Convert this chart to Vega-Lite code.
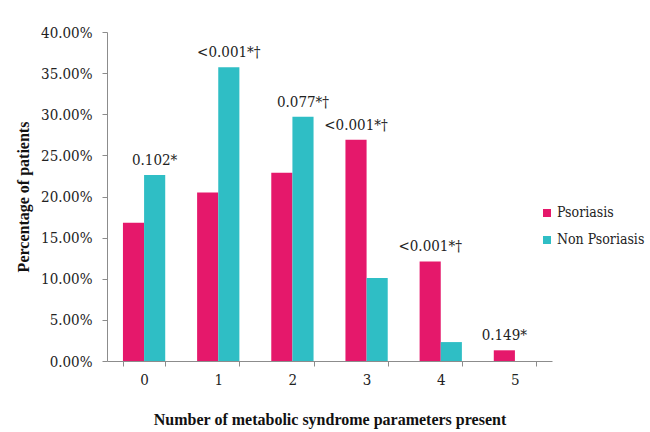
{
  "$schema": "https://vega.github.io/schema/vega-lite/v6.json",
  "autosize": {"type": "none"},
  "width": 445,
  "height": 329,
  "padding": {"left": 107, "top": 32, "right": 98, "bottom": 71},
  "background": "white",
  "config": {
    "view": {"stroke": null},
    "font": "DejaVu Serif Condensed, DejaVu Serif, serif",
    "axis": {"labelFont": "DejaVu Serif Condensed, DejaVu Serif, serif", "titleFont": "Liberation Serif, serif", "labelColor": "#222", "titleColor": "#111", "domainColor": "#8c8c8c", "tickColor": "#8c8c8c", "grid": false},
    "legend": {"labelFont": "DejaVu Serif Condensed, DejaVu Serif, serif", "labelColor": "#222"}
  },
  "data": {
    "values": [
      {"n": "0", "group": "Psoriasis", "pct": 0.168, "label": null},
      {"n": "0", "group": "Non Psoriasis", "pct": 0.226, "label": "0.102*"},
      {"n": "1", "group": "Psoriasis", "pct": 0.205, "label": null},
      {"n": "1", "group": "Non Psoriasis", "pct": 0.357, "label": "<0.001*†"},
      {"n": "2", "group": "Psoriasis", "pct": 0.229, "label": null},
      {"n": "2", "group": "Non Psoriasis", "pct": 0.297, "label": "0.077*†"},
      {"n": "3", "group": "Psoriasis", "pct": 0.269, "label": "<0.001*†"},
      {"n": "3", "group": "Non Psoriasis", "pct": 0.101, "label": null},
      {"n": "4", "group": "Psoriasis", "pct": 0.121, "label": "<0.001*†"},
      {"n": "4", "group": "Non Psoriasis", "pct": 0.023, "label": null},
      {"n": "5", "group": "Psoriasis", "pct": 0.013, "label": "0.149*"},
      {"n": "5", "group": "Non Psoriasis", "pct": 0.0, "label": null}
    ]
  },
  "encoding": {
    "x": {
      "field": "n", "type": "nominal",
      "scale": {"paddingInner": 0.43, "paddingOuter": 0.215},
      "axis": {"title": "Number of metabolic syndrome parameters present", "labelAngle": 0, "tickBand": "extent", "labelFontSize": 15, "labelPadding": 6, "tickSize": 5, "titleFontSize": 16, "titleFontWeight": "bold", "titlePadding": 24}
    },
    "xOffset": {"field": "group", "type": "nominal", "sort": ["Psoriasis", "Non Psoriasis"], "scale": {"domain": ["Psoriasis", "Non Psoriasis"], "paddingInner": 0, "paddingOuter": 0}},
    "y": {
      "field": "pct", "type": "quantitative",
      "scale": {"domain": [0, 0.4], "nice": false},
      "axis": {"title": "Percentage of patients", "format": ".2%", "values": [0, 0.05, 0.1, 0.15, 0.2, 0.25, 0.3, 0.35, 0.4], "labelFontSize": 15, "labelPadding": 10, "tickSize": 5, "titleFontSize": 16, "titleFontWeight": "bold", "titlePadding": 9}
    }
  },
  "layer": [
    {
      "mark": {"type": "bar"},
      "encoding": {
        "color": {
          "field": "group", "type": "nominal",
          "scale": {"domain": ["Psoriasis", "Non Psoriasis"], "range": ["#E5186B", "#2FBEC5"]},
          "legend": {"title": null, "orient": "none", "legendX": 433, "legendY": 174, "symbolType": "square", "symbolSize": 64, "symbolStrokeWidth": 0, "labelFontSize": 14, "labelOffset": 3, "rowPadding": 13}
        }
      }
    },
    {
      "transform": [{"filter": "datum.label != null"}],
      "mark": {"type": "text", "baseline": "bottom", "dy": -7, "fontSize": 15, "color": "#222", "font": "DejaVu Serif Condensed, DejaVu Serif, serif"},
      "encoding": {"text": {"field": "label"}}
    }
  ]
}
